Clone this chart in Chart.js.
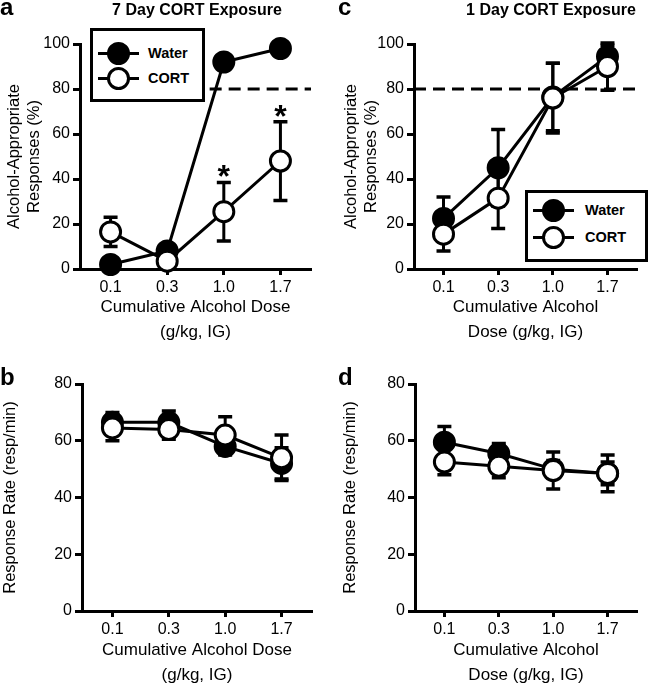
<!DOCTYPE html>
<html>
<head>
<meta charset="utf-8">
<script src="https://cdn.jsdelivr.net/npm/chart.js@4.4.1/dist/chart.umd.min.js"></script>
<style>
  html, body { margin: 0; padding: 0; background: #fff; overflow: hidden; }
  body { width: 650px; height: 685px; position: relative; font-family: "Liberation Sans", Arial, Helvetica, sans-serif; color: #000; }
  canvas { position: absolute; }
  .letter { position: absolute; font-weight: bold; font-size: 24px; line-height: 24px; }
  .ptitle { position: absolute; font-weight: bold; font-size: 16px; line-height: 16px; text-align: center; width: 240px; }
  .legend { position: absolute; border: 3px solid #000; box-sizing: border-box; background: #fff; }
  .legend .ln { position: absolute; height: 3px; background: #000; }
  .legend .dot { position: absolute; width: 17px; height: 17px; border: 3px solid #000; border-radius: 50%; }
  .legend .lbl { position: absolute; font-weight: bold; font-size: 14.5px; line-height: 14px; }
</style>
</head>
<body>
<canvas id="chartA" width="325" height="345" style="left:0;top:0"></canvas>
<canvas id="chartC" width="325" height="345" style="left:325px;top:0"></canvas>
<canvas id="chartB" width="325" height="348" style="left:0;top:340px"></canvas>
<canvas id="chartD" width="325" height="348" style="left:325px;top:340px"></canvas>

<div class="letter" style="left:0;top:-5px">a</div>
<div class="letter" style="left:338px;top:-5px">c</div>
<div class="letter" style="left:0;top:365px">b</div>
<div class="letter" style="left:338px;top:365px">d</div>
<div class="ptitle" style="left:77px;top:2px">7 Day CORT Exposure</div>
<div class="ptitle" style="left:431px;top:2px">1 Day CORT Exposure</div>

<script>
const doses = ["0.1", "0.3", "1.0", "1.7"];
const groups = ["Water", "CORT"];
const criterion = 80;

// a: 7 day CORT, alcohol-appropriate responses (%)
const aWater = [2, 8, 92, 98];
const aWaterSem = [1.5, 2, 2, 1.5];
const aCort = [16.5, 3.5, 25.5, 48];
const aCortSem = [6.5, 2, 13, 17.5];
const aStars = [false, false, true, true];

// b: 7 day CORT, response rate
const bWater = [66.5, 66.5, 58, 52];
const bWaterSem = [3.5, 4, 3, 5.5];
const bCort = [64.5, 64, 62, 54];
const bCortSem = [4.5, 3.5, 6.5, 8];

// c: 1 day CORT, alcohol-appropriate responses (%)
const cWater = [22.5, 45, 76.5, 94.5];
const cWaterSem = [9.5, 17, 15, 5];
const cCort = [15.5, 31.5, 76, 90];
const cCortSem = [7.5, 13.5, 15.5, 10.5];

// d: 1 day CORT, response rate
const dWater = [59.5, 55.5, 50, 48.5];
const dWaterSem = [5.5, 3.5, 3, 4];
const dCort = [52.5, 51, 49.5, 48.5];
const dCortSem = [4.5, 4, 6.5, 6.5];

const pctMax = 100;
const rateMax = 80;
const tickStep = 20;

Chart.defaults.font.family = "'Liberation Sans', Arial, Helvetica, sans-serif";
Chart.defaults.color = "#000";

const errorBars = {
  id: "errorBars",
  beforeDatasetsDraw(chart) {
    const ctx = chart.ctx;
    const y = chart.scales.y;
    ctx.save();
    ctx.strokeStyle = "#000";
    chart.data.datasets.forEach((ds, i) => {
      const meta = chart.getDatasetMeta(i);
      meta.data.forEach((pt, j) => {
        const v = ds.data[j].y, e = ds.sem[j];
        const top = y.getPixelForValue(v + e);
        const bot = y.getPixelForValue(v - e);
        ctx.lineWidth = 3;
        ctx.beginPath();
        ctx.moveTo(pt.x, top); ctx.lineTo(pt.x, bot);
        ctx.stroke();
        ctx.lineWidth = 3.5;
        ctx.beginPath();
        ctx.moveTo(pt.x - 7, top); ctx.lineTo(pt.x + 7, top);
        ctx.moveTo(pt.x - 7, bot); ctx.lineTo(pt.x + 7, bot);
        ctx.stroke();
      });
    });
    ctx.restore();
  }
};

const refLine = {
  id: "refLine",
  beforeDatasetsDraw(chart, args, opts) {
    if (opts.value == null) return;
    const { ctx, chartArea, scales } = chart;
    const yp = scales.y.getPixelForValue(opts.value);
    const x0 = opts.from == null ? chartArea.left : scales.x.getPixelForValue(opts.from);
    ctx.save();
    ctx.setLineDash([12, 7]);
    ctx.lineWidth = 3;
    ctx.strokeStyle = "#000";
    ctx.beginPath();
    ctx.moveTo(x0, yp);
    ctx.lineTo(chartArea.right, yp);
    ctx.stroke();
    ctx.restore();
  }
};

const stars = {
  id: "stars",
  afterDatasetsDraw(chart) {
    const ctx = chart.ctx;
    const y = chart.scales.y;
    ctx.save();
    ctx.fillStyle = "#000";
    ctx.font = "bold 32px 'Liberation Sans', Arial, sans-serif";
    ctx.textAlign = "center";
    ctx.textBaseline = "alphabetic";
    chart.data.datasets.forEach((ds, i) => {
      if (!ds.stars) return;
      const meta = chart.getDatasetMeta(i);
      meta.data.forEach((pt, j) => {
        if (!ds.stars[j]) return;
        const m = ctx.measureText("*");
        const top = y.getPixelForValue(ds.data[j].y + ds.sem[j]);
        const yy = top - 11 - (m.actualBoundingBoxDescent - m.actualBoundingBoxAscent) / 2;
        ctx.fillText("*", pt.x, yy);
      });
    });
    ctx.restore();
  }
};

function makePanel(id, p) {
  const pts = (arr) => arr.map((v, i) => ({ x: i, y: v }));
  const black = "#000";
  return new Chart(document.getElementById(id), {
    type: "line",
    data: {
      datasets: [
        { label: groups[0], data: pts(p.water), sem: p.waterSem, order: 1,
          borderColor: black, backgroundColor: black, pointBackgroundColor: black,
          pointBorderColor: black, borderWidth: 3, pointRadius: 10, pointBorderWidth: 3,
          tension: 0, clip: false },
        { label: groups[1], data: pts(p.cort), sem: p.cortSem, stars: p.stars, order: 0,
          borderColor: black, backgroundColor: "#fff", pointBackgroundColor: "#fff",
          pointBorderColor: black, borderWidth: 3, pointRadius: 10, pointBorderWidth: 3,
          tension: 0, clip: false }
      ]
    },
    plugins: [errorBars, refLine, stars],
    options: {
      responsive: false,
      animation: false,
      events: [],
      devicePixelRatio: 1,
      layout: { padding: { left: 0, right: p.padR, top: 44, bottom: 0 } },
      plugins: {
        legend: { display: false },
        tooltip: { enabled: false },
        colors: { enabled: false },
        refLine: { value: p.ref, from: p.refFrom }
      },
      scales: {
        x: {
          type: "linear",
          min: -0.54,
          max: 3.54,
          afterFit: (s) => { s.height = p.xH; },
          ticks: {
            stepSize: 1, includeBounds: false, autoSkip: false, maxRotation: 0,
            padding: 3, color: black, font: { size: 16 },
            callback: (v) => doses[v]
          },
          grid: { drawOnChartArea: false, drawTicks: true, tickLength: 6, tickWidth: 3, tickColor: black },
          border: { display: true, width: 3, color: black },
          title: { display: true, text: p.xTitle, color: black,
                   font: { size: 17, lineHeight: "25px" }, padding: { top: 0, bottom: 0 } }
        },
        y: {
          min: 0,
          max: p.yMax,
          afterFit: (s) => { s.width = p.yW; },
          ticks: { stepSize: tickStep, padding: 3, color: black, font: { size: 16 } },
          grid: { drawOnChartArea: false, drawTicks: true, tickLength: 7, tickWidth: 3, tickColor: black },
          border: { display: true, width: 3, color: black },
          title: { display: true, text: p.yTitle, color: black,
                   font: { size: 16.5, lineHeight: "20px" }, padding: { top: p.yPad, bottom: 0 } }
        }
      }
    }
  });
}

function addLegend(left, top, w, h, rows, dotC, textX) {
  const box = document.createElement("div");
  box.className = "legend";
  Object.assign(box.style, { left: left + "px", top: top + "px", width: w + "px", height: h + "px" });
  groups.forEach((g, i) => {
    const cy = rows[i];
    const ln = document.createElement("div");
    ln.className = "ln";
    Object.assign(ln.style, { left: (dotC - 20) + "px", width: "41px", top: (cy - 1.5) + "px" });
    const dot = document.createElement("div");
    dot.className = "dot";
    Object.assign(dot.style, { left: (dotC - 11.5) + "px", top: (cy - 11.5) + "px",
                               background: i === 0 ? "#000" : "#fff" });
    const lbl = document.createElement("div");
    lbl.className = "lbl";
    lbl.textContent = g;
    Object.assign(lbl.style, { left: textX + "px", top: (cy - 7) + "px" });
    box.appendChild(ln); box.appendChild(dot); box.appendChild(lbl);
  });
  document.body.appendChild(box);
}

const pctTitle = ["Alcohol-Appropriate", "Responses (%)"];
const rateTitle = "Response Rate (resp/min)";
const doseTitleWide = ["Cumulative Alcohol Dose", "(g/kg, IG)"];
const doseTitleNarrow = ["Cumulative Alcohol", "Dose (g/kg, IG)"];

makePanel("chartA", { water: aWater, waterSem: aWaterSem, cort: aCort, cortSem: aCortSem, stars: aStars,
  yMax: pctMax, yW: 80, yPad: 4, padR: 14, xH: 76, ref: criterion, refFrom: 1.75,
  yTitle: pctTitle, xTitle: doseTitleWide });
makePanel("chartC", { water: cWater, waterSem: cWaterSem, cort: cCort, cortSem: cCortSem,
  yMax: pctMax, yW: 89, yPad: 16, padR: 9, xH: 76, ref: criterion, refFrom: null,
  yTitle: pctTitle, xTitle: doseTitleNarrow });
makePanel("chartB", { water: bWater, waterSem: bWaterSem, cort: bCort, cortSem: bCortSem,
  yMax: rateMax, yW: 82, yPad: 0, padR: 13, xH: 77, ref: null, refFrom: null,
  yTitle: rateTitle, xTitle: doseTitleWide });
makePanel("chartD", { water: dWater, waterSem: dWaterSem, cort: dCort, cortSem: dCortSem,
  yMax: rateMax, yW: 90, yPad: 15, padR: 9, xH: 77, ref: null, refFrom: null,
  yTitle: rateTitle, xTitle: doseTitleNarrow });

addLegend(90, 28, 115, 74, [22, 47], 25, 55);
addLegend(525, 190, 123, 72, [17, 44], 25, 57);
</script>
</body>
</html>
